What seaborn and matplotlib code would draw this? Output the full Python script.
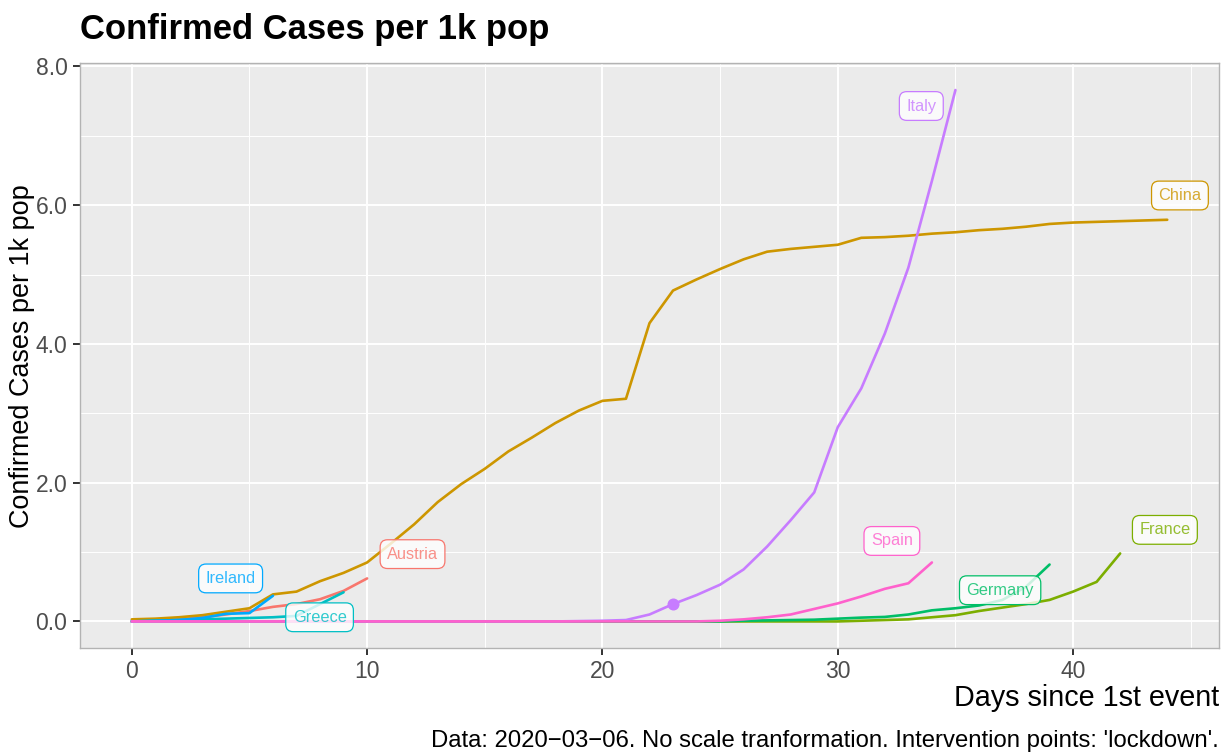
import numpy as np
import pandas as pd
import matplotlib
matplotlib.use("Agg")
import matplotlib.pyplot as plt
import seaborn as sns
from matplotlib.ticker import MultipleLocator, FormatStrFormatter

# ---------------- data ----------------
countries = ["Austria", "China", "France", "Germany", "Greece", "Ireland", "Italy", "Spain"]
colors = ["#F8766D", "#CD9600", "#7CAE00", "#00BE67", "#00BFC4", "#00A9FF", "#C77CFF", "#FF61CC"]

austria = [0.00, 0.01, 0.03, 0.06, 0.10, 0.15, 0.21, 0.25, 0.32, 0.44, 0.62]
china = [0.03, 0.04, 0.06, 0.09, 0.14, 0.19, 0.39, 0.43, 0.58, 0.70, 0.85, 1.12, 1.40, 1.72,
         1.98, 2.20, 2.45, 2.65, 2.86, 3.04, 3.18, 3.21, 4.30, 4.77, 4.93, 5.08, 5.22, 5.33,
         5.37, 5.40, 5.43, 5.53, 5.54, 5.56, 5.59, 5.61, 5.64, 5.66, 5.69, 5.73, 5.75, 5.76,
         5.77, 5.78, 5.79]
france = [0.0] * 31 + [0.01, 0.02, 0.03, 0.06, 0.09, 0.15, 0.20, 0.25, 0.31, 0.43, 0.57, 0.98]
germany = [0.0] * 26 + [0.01, 0.015, 0.02, 0.025, 0.04, 0.055, 0.065, 0.10, 0.16, 0.19,
                        0.23, 0.31, 0.50, 0.82]
greece = [0.0, 0.01, 0.02, 0.03, 0.04, 0.05, 0.06, 0.08, 0.25, 0.42]
ireland = [0.0, 0.01, 0.02, 0.05, 0.11, 0.12, 0.37]
italy = [0.0] * 19 + [0.005, 0.01, 0.02, 0.10, 0.25, 0.38, 0.53, 0.75, 1.08, 1.46, 1.86,
                      2.80, 3.36, 4.15, 5.10, 6.35, 7.66]
spain = [0.0] * 25 + [0.01, 0.03, 0.06, 0.10, 0.18, 0.26, 0.36, 0.47, 0.55, 0.85]

series = [austria, china, france, germany, greece, ireland, italy, spain]

# intervention point (lockdown)
lockdown_country = "Italy"
lockdown_day = 23

# label positions (data coords) for each country's tag
label_x = [11.93, 44.54, 43.9, 36.9, 7.98, 4.2, 33.55, 32.3]
label_y = [0.97, 6.14, 1.32, 0.45, 0.06, 0.62, 7.43, 1.16]

title = "Confirmed Cases per 1k pop"
xlabel = "Days since 1st event"
ylabel = "Confirmed Cases per 1k pop"
caption = "Data: 2020\u221203\u221206. No scale tranformation. Intervention points: 'lockdown'."

rows = []
for c, vals in zip(countries, series):
    for d, v in enumerate(vals):
        rows.append((c, d, v))
df = pd.DataFrame(rows, columns=["country", "day", "value"])

# ---------------- style ----------------
sns.set_theme(style="darkgrid")
plt.rcParams["font.family"] = ["Liberation Sans", "DejaVu Sans"]

W, H = 1231, 755
fig = plt.figure(figsize=(W / 100, H / 100), dpi=100)
ax = fig.add_axes([80 / W, 1 - 648 / H, (1219 - 80) / W, (648 - 63) / H])
ax.set_facecolor("#EBEBEB")

pal = dict(zip(countries, colors))
sns.lineplot(data=df, x="day", y="value", hue="country", palette=pal,
             hue_order=countries, linewidth=1.9, legend=False, ax=ax, zorder=3)

ipt = df[(df.country == lockdown_country) & (df.day == lockdown_day)]
ax.scatter(ipt.day, ipt.value, s=75, color=pal[lockdown_country], zorder=4, linewidths=0)

for c, lx, ly in zip(countries, label_x, label_y):
    ax.text(lx, ly, c, ha="center", va="center", fontsize=11.8, color=pal[c], alpha=0.8,
            zorder=5,
            bbox=dict(boxstyle="round,pad=0.42,rounding_size=0.45", fc=(1, 1, 1, 0.8),
                      ec=pal[c], lw=0.9))

ax.set_xlim(-2.2, 46.2)
ax.set_ylim(-0.383, 8.05)
ax.xaxis.set_major_locator(MultipleLocator(10))
ax.xaxis.set_minor_locator(MultipleLocator(5))
ax.yaxis.set_major_locator(MultipleLocator(2))
ax.yaxis.set_minor_locator(MultipleLocator(1))
ax.yaxis.set_major_formatter(FormatStrFormatter("%.1f"))
ax.grid(which="major", color="white", linewidth=1.4)
ax.grid(which="minor", color="white", linewidth=0.7)
ax.set_axisbelow(True)
for s in ax.spines.values():
    s.set_visible(True)
    s.set_color("#B3B3B3")
    s.set_linewidth(1.0)
ax.tick_params(axis="both", which="major", bottom=True, left=True, direction="out",
               length=5, width=1.4, color="#333333",
               labelsize=16.5, labelcolor="#4D4D4D", pad=4)
ax.tick_params(axis="both", which="minor", bottom=False, left=False, length=0)

ax.set_xlabel("")
ax.set_ylabel("")
t_x = fig.text(1219 / W, 1 - 698 / H, xlabel, ha="right", va="center", fontsize=19, color="black")
t_y = fig.text(22.5 / W, 1 - 356 / H, ylabel, ha="center", va="center", rotation=90,
               fontsize=19, color="black")
t_t = fig.text(80 / W, 1 - 29 / H, title, ha="left", va="center", fontsize=25,
               fontweight="bold", color="black")
t_c = fig.text(1219 / W, 1 - 741 / H, caption, ha="right", va="center", fontsize=16, color="black")

# fit text sizes to the reference extents (pixels)
fig.canvas.draw()
r = fig.canvas.get_renderer()
for t, target, horiz in [(t_x, 266, True), (t_y, 343, False), (t_t, 469, True), (t_c, 791, True)]:
    bb = t.get_window_extent(r)
    cur = bb.width if horiz else bb.height
    t.set_fontsize(t.get_fontsize() * target / cur)

fig.savefig("out.png", dpi=100)
